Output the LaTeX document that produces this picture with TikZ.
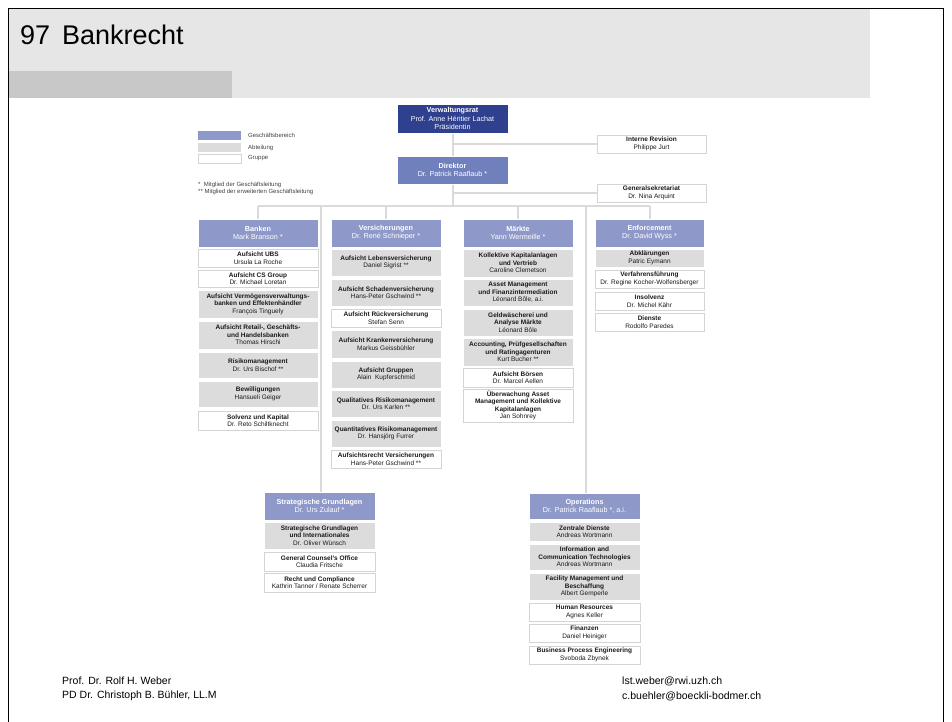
\documentclass[tikz,border=0pt]{standalone}
\usepackage{fontspec}
\setmainfont{Liberation Sans}
\usetikzlibrary{backgrounds}
\definecolor{vrblue}{HTML}{2E408E}
\definecolor{dirblue}{HTML}{7080BC}
\definecolor{hblue}{HTML}{8F99C9}
\definecolor{gfill}{HTML}{DCDCDC}
\definecolor{wline}{HTML}{D4D4D4}
\definecolor{cline}{HTML}{DADADA}
\definecolor{band}{HTML}{E6E6E6}
\definecolor{strip}{HTML}{C8C8C8}
\definecolor{txt}{HTML}{1A1A1A}
\newcommand\OrgBox[7]{\node[#1,minimum width={#5-#3},minimum height={#6-#4}] (#2) at ({(#3+#5)/2},{(#4+#6)/2}) {#7};}
\begin{document}
\begin{tikzpicture}[x=1pt,y=-1pt,
  box/.style={inner sep=0pt,outer sep=0pt,align=center,line width=0.8pt,
    font=\fontsize{6.5}{7.5}\selectfont,text=txt},
  wbox/.style={box,fill=white,draw=wline},
  gbox/.style={box,fill=gfill,draw=white},
  hbox/.style={box,fill=hblue,draw=white,text=white,font=\fontsize{7.2}{8.2}\selectfont},
  dbox/.style={hbox,fill=dirblue},
  vbox/.style={hbox,fill=vrblue},
  conn/.style={draw=cline,line width=2pt},
  lab/.style={anchor=west,inner sep=0pt,font=\fontsize{6}{7}\selectfont,text=black!75},
  foot/.style={anchor=west,inner sep=0pt,font=\fontsize{10.5}{12}\selectfont,text=black},
  title/.style={anchor=base west,inner sep=0pt,font=\fontsize{27}{30}\selectfont,text=black}]
\useasboundingbox (0,0) rectangle (952,722);
% header band
\fill[band] (9,9) rectangle (870,98);
\fill[strip] (9,71) rectangle (232,98);
\draw[line width=1.5pt] (8.5,722) -- (8.5,8.5) -- (943.5,8.5) -- (943.5,722);
\node[title] (t97) at (20,45) {97};
\node[title] (tbank) at (62,45) {Bankrecht};
% legend
\OrgBox{box,fill=hblue,draw=none}{lg1}{198}{131}{241}{140}{}
\OrgBox{box,fill=gfill,draw=none}{lg2}{198}{143}{241}{152}{}
\OrgBox{wbox}{lg3}{198}{154}{241}{163}{}
\node[lab] (lt1) at (248,135.5) {Geschäftsbereich};
\node[lab] (lt2) at (248,147.5) {Abteilung};
\node[lab] (lt3) at (248,158.5) {Gruppe};
\node[lab] (fn1) at (198,185) {*\ \ Mitglied der Geschäftsleitung};
\node[lab] (fn2) at (198,192) {** Mitglied der erweiterten Geschäftsleitung};
% top
\OrgBox{vbox}{vr}{397}{104}{508}{133}{\textbf{Verwaltungsrat}\\Prof. Anne Héritier Lachat\\Präsidentin}
\OrgBox{dbox}{dir}{397}{156}{508}{184}{\textbf{Direktor}\\Dr. Patrick Raaflaub *}
\OrgBox{wbox}{ir}{597}{135}{706}{153}{\textbf{Interne Revision}\\Philippe Jurt}
\OrgBox{wbox}{gs}{597}{184}{706}{202}{\textbf{Generalsekretariat}\\Dr. Nina Arquint}
% Banken
\OrgBox{hbox}{hb}{198}{219}{318}{247}{\textbf{Banken}\\Mark Branson *}
\OrgBox{wbox}{b1}{198}{249}{318}{267}{\textbf{Aufsicht UBS}\\Ursula La Roche}
\OrgBox{wbox}{b2}{198}{270}{318}{287}{\textbf{Aufsicht CS Group}\\Dr. Michael Loretan}
\OrgBox{gbox}{b3}{198}{290}{318}{318}{\textbf{Aufsicht Vermögensverwaltungs-}\\\textbf{banken und Effektenhändler}\\François Tinguely}
\OrgBox{gbox}{b4}{198}{321}{318}{349}{\textbf{Aufsicht Retail-, Geschäfts-}\\\textbf{und Handelsbanken}\\Thomas Hirschi}
\OrgBox{gbox}{b5}{198}{352}{318}{378}{\textbf{Risikomanagement}\\Dr. Urs Bischof **}
\OrgBox{gbox}{b6}{198}{381}{318}{407}{\textbf{Bewilligungen}\\Hansueli Geiger}
\OrgBox{wbox}{b7}{198}{411}{318}{430}{\textbf{Solvenz und Kapital}\\Dr. Reto Schiltknecht}
% Versicherungen
\OrgBox{hbox}{hv}{331}{219}{441}{247}{\textbf{Versicherungen}\\Dr. René Schnieper *}
\OrgBox{gbox}{v1}{331}{249}{441}{276}{\textbf{Aufsicht Lebensversicherung}\\Daniel Sigrist **}
\OrgBox{gbox}{v2}{331}{279}{441}{306}{\textbf{Aufsicht Schadenversicherung}\\Hans-Peter Gschwind **}
\OrgBox{wbox}{v3}{331}{309}{441}{327}{\textbf{Aufsicht Rückversicherung}\\Stefan Senn}
\OrgBox{gbox}{v4}{331}{330}{441}{358}{\textbf{Aufsicht Krankenversicherung}\\Markus Geissbühler}
\OrgBox{gbox}{v5}{331}{361}{441}{388}{\textbf{Aufsicht Gruppen}\\Alain\ \ Kupferschmid}
\OrgBox{gbox}{v6}{331}{390}{441}{417}{\textbf{Qualitatives Risikomanagement}\\Dr. Urs Karlen **}
\OrgBox{gbox}{v7}{331}{420}{441}{447}{\textbf{Quantitatives Risikomanagement}\\Dr. Hansjörg Furrer}
\OrgBox{wbox}{v8}{331}{450}{441}{468}{\textbf{Aufsichtsrecht Versicherungen}\\Hans-Peter Gschwind **}
% Maerkte
\OrgBox{hbox}{hm}{463}{219}{573}{247}{\textbf{Märkte}\\Yann Wermeille *}
\OrgBox{gbox}{m1}{463}{249}{573}{277}{\textbf{Kollektive Kapitalanlagen}\\\textbf{und Vertrieb}\\Caroline Clemetson}
\OrgBox{gbox}{m2}{463}{279}{573}{306}{\textbf{Asset Management}\\\textbf{und Finanzintermediation}\\Léonard Bôle, a.i.}
\OrgBox{gbox}{m3}{463}{309}{573}{336}{\textbf{Geldwäscherei und}\\\textbf{Analyse Märkte}\\Léonard Bôle}
\OrgBox{gbox}{m4}{463}{338}{573}{366}{\textbf{Accounting, Prüfgesellschaften}\\\textbf{und Ratingagenturen}\\Kurt Bucher **}
\OrgBox{wbox}{m5}{463}{368}{573}{387}{\textbf{Aufsicht Börsen}\\Dr. Marcel Aellen}
\OrgBox{wbox}{m6}{463}{389}{573}{422}{\textbf{Überwachung Asset}\\\textbf{Management und Kollektive}\\\textbf{Kapitalanlagen}\\Jan Sohnrey}
% Enforcement
\OrgBox{hbox}{he}{595}{219}{704}{247}{\textbf{Enforcement}\\Dr. David Wyss *}
\OrgBox{gbox}{e1}{595}{249}{704}{267}{\textbf{Abklärungen}\\Patric Eymann}
\OrgBox{wbox}{e2}{595}{270}{704}{288}{\textbf{Verfahrensführung}\\Dr. Regine Kocher-Wolfensberger}
\OrgBox{wbox}{e3}{595}{292}{704}{310}{\textbf{Insolvenz}\\Dr. Michel Kähr}
\OrgBox{wbox}{e4}{595}{313}{704}{331}{\textbf{Dienste}\\Rodolfo Paredes}
% Strategische Grundlagen
\OrgBox{hbox}{hs}{264}{492}{375}{520}{\textbf{Strategische Grundlagen}\\Dr. Urs Zulauf *}
\OrgBox{gbox}{s1}{264}{522}{375}{549}{\textbf{Strategische Grundlagen}\\\textbf{und Internationales}\\Dr. Oliver Wünsch}
\OrgBox{wbox}{s2}{264}{552}{375}{571}{\textbf{General Counsel's Office}\\Claudia Fritsche}
\OrgBox{wbox}{s3}{264}{573}{375}{592}{\textbf{Recht und Compliance}\\Kathrin Tanner / Renate Scherrer}
% Operations
\OrgBox{hbox}{ho}{529}{493}{640}{519}{\textbf{Operations}\\Dr. Patrick Raaflaub *, a.i.}
\OrgBox{gbox}{o1}{529}{522}{640}{541}{\textbf{Zentrale Dienste}\\Andreas Wortmann}
\OrgBox{gbox}{o2}{529}{544}{640}{570}{\textbf{Information and}\\\textbf{Communication Technologies}\\Andreas Wortmann}
\OrgBox{gbox}{o3}{529}{573}{640}{600}{\textbf{Facility Management und}\\\textbf{Beschaffung}\\Albert Gemperle}
\OrgBox{wbox}{o4}{529}{603}{640}{621}{\textbf{Human Resources}\\Agnes Keller}
\OrgBox{wbox}{o5}{529}{624}{640}{642}{\textbf{Finanzen}\\Daniel Heiniger}
\OrgBox{wbox}{o6}{529}{646}{640}{664}{\textbf{Business Process Engineering}\\Svoboda Zbynek}
% footer
\node[foot] (f1) at (62,681) {Prof. Dr. Rolf H. Weber};
\node[foot] (f2) at (62,696) {PD Dr. Christoph B. Bühler, LL.M};
\node[foot] (f3) at (622,681) {lst.weber@rwi.uzh.ch};
\node[foot] (f4) at (622,696) {c.buehler@boeckli-bodmer.ch};
% connectors
\coordinate (bus) at (452,206);
\begin{scope}[on background layer]
\draw[conn] (vr.south) -- (vr.south |- bus);
\draw[conn] (vr.south |- ir.west) -- (ir.west);
\draw[conn] (vr.south |- gs.west) -- (gs.west);
\draw[conn] (hb.north |- bus) -- (he.north |- bus);
\draw[conn] (hb.north) -- (hb.north |- bus);
\draw[conn] (hv.north) -- (hv.north |- bus);
\draw[conn] (hm.north) -- (hm.north |- bus);
\draw[conn] (he.north) -- (he.north |- bus);
\draw[conn] ([xshift=1.5pt]hs.north) -- ([xshift=1.5pt]hs.north |- bus);
\draw[conn] ([xshift=1pt]ho.north) -- ([xshift=1pt]ho.north |- bus);
\end{scope}
\end{tikzpicture}
\end{document}
